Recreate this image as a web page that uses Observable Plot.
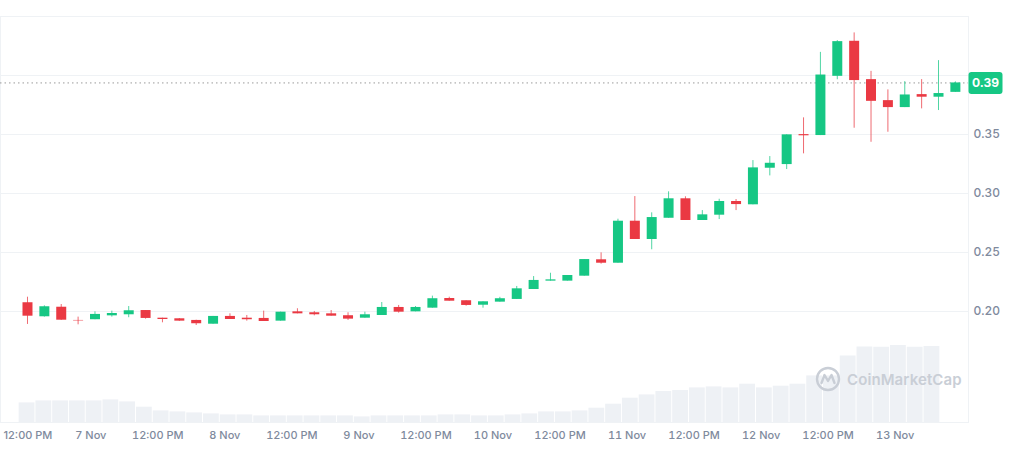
<!DOCTYPE html>
<html><head><meta charset="utf-8">
<script src="https://cdn.jsdelivr.net/npm/d3@7"></script>
<script src="https://cdn.jsdelivr.net/npm/@observablehq/plot@0.6"></script>
<style>
html,body{margin:0;padding:0;background:#fff;}
#wrap{position:relative;width:1010px;height:464px;font-family:Inter,sans-serif;overflow:hidden;}
#wrap > svg, #wrap > .layer{position:absolute;left:0;top:0;}
#wm{position:absolute;left:815px;top:366px;display:flex;align-items:center;gap:6px;color:#c9ced6;font:600 15px Inter,sans-serif;letter-spacing:0.1px;}
</style></head><body><div id="wrap"></div>
<script>
// ---- data (3-hour candles, 6–13 Nov) ----
const opens  = [0.2074,0.1955,0.2036,0.1924,0.1930,0.1963,0.1972,0.2008,0.1943,0.1938,
                0.1924,0.1892,0.1958,0.1943,0.1941,0.1918,0.1997,0.1989,0.1980,0.1964,
                0.1943,0.1966,0.2034,0.1997,0.2028,0.2110,0.2091,0.2053,0.2079,0.2102,
                0.2186,0.2257,0.2257,0.2299,0.2438,0.2409,0.2765,0.2610,0.2790,0.2955,
                0.2771,0.2816,0.2932,0.2904,0.3214,0.3245,0.3499,0.3491,0.3993,0.4290,
                0.3965,0.3787,0.3728,0.3838,0.3816,0.3857];
const highs  = [0.2121,0.2048,0.2059,0.1952,0.1997,0.2003,0.2042,0.2008,0.1943,0.1940,
                0.1926,0.1958,0.1980,0.1966,0.2003,0.1994,0.2023,0.2000,0.2008,0.1989,
                0.1994,0.2076,0.2051,0.2042,0.2130,0.2121,0.2091,0.2082,0.2120,0.2212,
                0.2296,0.2324,0.2305,0.2440,0.2497,0.2782,0.2974,0.2836,0.3014,0.2972,
                0.2855,0.2951,0.2949,0.3279,0.3313,0.3497,0.3641,0.4196,0.4296,0.4361,
                0.4035,0.3878,0.3948,0.3965,0.4126,0.3946];
const lows   = [0.1890,0.1952,0.1924,0.1887,0.1930,0.1952,0.1947,0.1935,0.1904,0.1916,
                0.1881,0.1892,0.1932,0.1918,0.1915,0.1918,0.1980,0.1963,0.1960,0.1924,
                0.1943,0.1966,0.1986,0.1997,0.2028,0.2087,0.2045,0.2028,0.2079,0.2102,
                0.2186,0.2257,0.2257,0.2299,0.2401,0.2409,0.2610,0.2523,0.2790,0.2771,
                0.2771,0.2779,0.2855,0.2904,0.3149,0.3203,0.3336,0.3491,0.3964,0.3553,
                0.3434,0.3519,0.3728,0.3717,0.3703,0.3857];
const closes = [0.1960,0.2040,0.1926,0.1920,0.1975,0.1983,0.2006,0.1941,0.1932,0.1918,
                0.1896,0.1958,0.1932,0.1930,0.1915,0.1994,0.1980,0.1972,0.1960,0.1935,
                0.1972,0.2034,0.1994,0.2034,0.2108,0.2087,0.2051,0.2082,0.2108,0.2192,
                0.2263,0.2268,0.2305,0.2440,0.2409,0.2765,0.2610,0.2796,0.2955,0.2771,
                0.2819,0.2932,0.2906,0.3217,0.3256,0.3497,0.3489,0.4004,0.4287,0.3957,
                0.3781,0.3728,0.3835,0.3816,0.3847,0.3937];
// volume (millions, relative)
const volumes = [1.96,2.16,2.16,2.16,2.16,2.26,2.06,1.53,1.16,1.06,
                 0.96,0.86,0.76,0.76,0.66,0.66,0.66,0.66,0.66,0.66,
                 0.56,0.66,0.66,0.66,0.66,0.76,0.76,0.66,0.66,0.76,
                 0.86,1.06,1.06,1.16,1.43,1.83,2.43,2.76,3.10,3.20,
                 3.46,3.56,3.46,3.83,3.46,3.63,3.83,4.66,4.66,6.66,
                 7.56,7.53,7.70,7.53,7.60];
const firstCandle = new Date(2023, 10, 6, 12, 30);
const candleHours = 3;
const tickDates = [
  new Date(2023,10,6,12), new Date(2023,10,7), new Date(2023,10,7,12), new Date(2023,10,8),
  new Date(2023,10,8,12), new Date(2023,10,9), new Date(2023,10,9,12), new Date(2023,10,10),
  new Date(2023,10,10,12), new Date(2023,10,11), new Date(2023,10,11,12), new Date(2023,10,12),
  new Date(2023,10,12,12), new Date(2023,10,13)
];
const priceTicks = [0.20, 0.25, 0.30, 0.35];
const gridPrices = [0.20, 0.25, 0.30, 0.35, 0.40];

// ---- build ----
const GREEN = "#16c784", RED = "#ea3943", MUTED = "#808a9d";
const times = opens.map((_, i) => d3.timeHour.offset(firstCandle, i * candleHours));
const candles = opens.map((o, i) => ({t: times[i], open: o, high: highs[i], low: lows[i], close: closes[i]}));
const volData = volumes.map((v, i) => ({t: times[i], v}));
const lastClose = closes[closes.length - 1];
const col = d => d.close >= d.open ? GREEN : RED;
const fmtTick = d => d.getHours() === 12 ? d3.timeFormat("%I:%M %p")(d) : d3.timeFormat("%-d %b")(d);
const common = {width: 1010, height: 464, marginLeft: 0, marginRight: 42, marginTop: 16, marginBottom: 42};
const axisFont = {fontSize: 11, fill: MUTED, fontWeight: 500};

const plotA = Plot.plot({
  ...common,
  style: {fontFamily: "Inter, sans-serif", background: "white"},
  x: {type: "time", domain: [new Date(2023,10,6,7,50), new Date(2023,10,13,13,8)], label: null},
  y: {domain: [0, 40.6], axis: null, label: null},
  marks: [
    Plot.frame({stroke: "#eff2f5"}),
    Plot.ruleX(volData, {x: "t", y1: 0, y2: "v", stroke: "#eef1f5", strokeWidth: 15.8}),
    Plot.axisX({ticks: tickDates.slice(1), tickFormat: fmtTick, tickSize: 0, tickPadding: 9, ...axisFont, label: null}),
    // first tick label is kept inside the left edge
    Plot.text([tickDates[0]], {text: fmtTick, frameAnchor: "bottom-left", textAnchor: "start",
                lineAnchor: "top", dx: 3, dy: 9, ...axisFont})
  ]
});

const roundBox = {
  draw(ctx) {
    const w = 17, h = 11, r = 3;
    ctx.moveTo(-w + r, -h);
    ctx.lineTo(w - r, -h); ctx.arcTo(w, -h, w, -h + r, r);
    ctx.lineTo(w, h - r); ctx.arcTo(w, h, w - r, h, r);
    ctx.lineTo(-w + r, h); ctx.arcTo(-w, h, -w, h - r, r);
    ctx.lineTo(-w, -h + r); ctx.arcTo(-w, -h, -w + r, -h, r);
    ctx.closePath();
  }
};

const plotB = Plot.plot({
  ...common,
  style: {fontFamily: "Inter, sans-serif", background: "transparent"},
  x: {type: "time", domain: [new Date(2023,10,6,7,42), new Date(2023,10,13,11,50)], axis: null, label: null},
  y: {domain: [0.1059, 0.45], label: null},
  marks: [
    Plot.gridY(gridPrices, {stroke: "#eff2f5", strokeOpacity: 1}),
    Plot.axisY({ticks: priceTicks, anchor: "right", tickSize: 0, tickPadding: 5,
                tickFormat: d3.format(".2f"), fontSize: 12, fill: MUTED, fontWeight: 500, label: null}),
    Plot.ruleY([lastClose], {stroke: "#9a9a9a", strokeDasharray: "1.5,3"}),
    Plot.ruleX(candles, {x: "t", y1: "low", y2: "high", stroke: col, strokeWidth: 1, strokeOpacity: 0.75}),
    Plot.ruleX(candles, {x: "t", y1: "open", y2: "close", stroke: col, strokeWidth: 10}),
    Plot.dot([lastClose], {y: d => d, frameAnchor: "right", dx: 17, symbol: roundBox, fill: GREEN, stroke: null, r: 10}),
    Plot.text([lastClose], {y: d => d, frameAnchor: "right", dx: 17, text: d => d3.format(".2f")(d),
                fill: "white", fontWeight: 700, fontSize: 12, textAnchor: "middle"})
  ]
});

const wrap = document.getElementById("wrap");
wrap.appendChild(plotA);
const wm = document.createElement("div");
wm.id = "wm";
wm.innerHTML = `<svg width="26" height="26" viewBox="0 0 26 26"><circle cx="13" cy="13" r="11" fill="none" stroke="#c9ced6" stroke-width="2.4"/><path d="M6.5 17 L9.5 9 L13 15 L16.5 9 L19.5 17" fill="none" stroke="#c9ced6" stroke-width="2.4" stroke-linejoin="round" stroke-linecap="round"/></svg><span>CoinMarketCap</span>`;
wrap.appendChild(wm);
wrap.appendChild(plotB);
</script></body></html>
